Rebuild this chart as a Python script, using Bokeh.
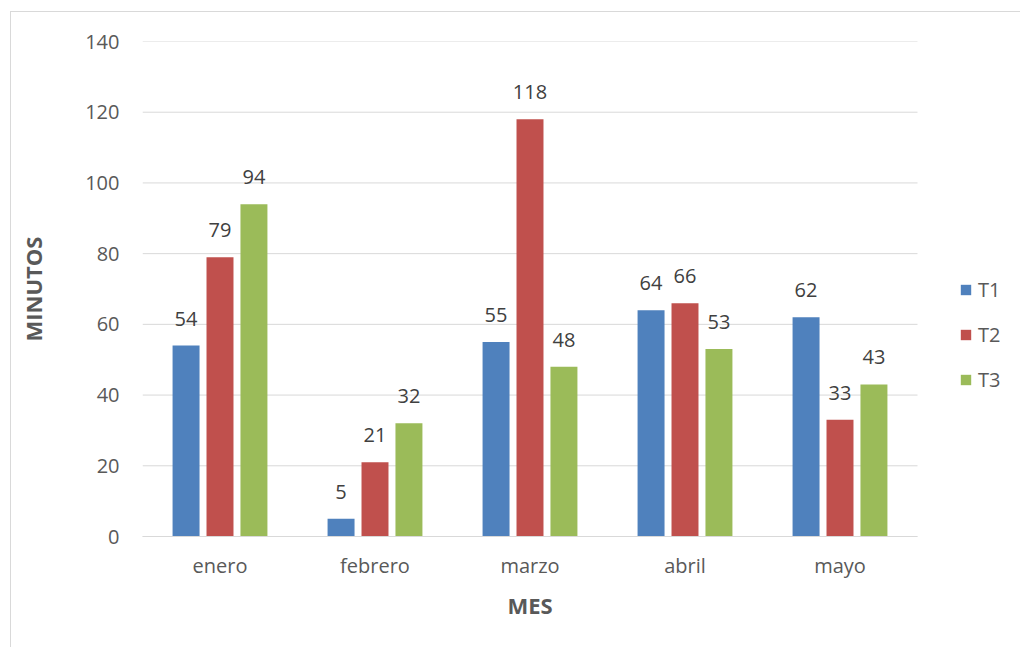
from bokeh.plotting import figure
from bokeh.models import (ColumnDataSource, Range1d, LabelSet, Legend, LegendItem, FixedTicker, Title)
from bokeh.transform import dodge
from bokeh.core.properties import value
from bokeh.embed import file_html
from bokeh.resources import INLINE

meses = ["enero", "febrero", "marzo", "abril", "mayo"]
t1 = [54, 5, 55, 64, 62]
t2 = [79, 21, 118, 66, 33]
t3 = [94, 32, 48, 53, 43]
series = ["T1", "T2", "T3"]
colors = ["#4F81BD", "#C0504D", "#9BBB59"]
y_ticks = [0, 20, 40, 60, 80, 100, 120, 140]

n = len(meses)
xc = [i + 0.5 for i in range(n)]
src = ColumnDataSource(dict(xc=xc, mes=meses, T1=t1, T2=t2, T3=t3,
                            L1=[str(v) for v in t1], L2=[str(v) for v in t2], L3=[str(v) for v in t3]))

FONT = "Open Sans"
W, H = 1010, 636
FRAME_LEFT, CAT_PX = 131, 155          # canvas px of the frame's left edge, px per category
x_max = (W - 4 - FRAME_LEFT) / CAT_PX  # frame extends right to hold the legend
p = figure(width=W, height=H, x_range=Range1d(0, x_max),
           y_range=Range1d(0, 140), output_backend="svg", toolbar_location=None,
           min_border_left=FRAME_LEFT, min_border_right=4, min_border_top=29, min_border_bottom=112)
p.styles = {"margin-left": "10px", "margin-top": "11px",
            "border-left": "1.5px solid #D9D9D9", "border-top": "1.5px solid #D9D9D9"}
p.outline_line_color = None
p.background_fill_color = "white"
p.border_fill_color = "white"
p.xgrid.grid_line_color = None
p.ygrid.grid_line_color = None

# horizontal gridlines across the category area only
p.segment(x0=[0] * len(y_ticks), x1=[n] * len(y_ticks), y0=y_ticks, y1=y_ticks,
          line_color="#D9D9D9", line_width=1)

offs = [-0.219, 0.0, 0.219]
bw = 0.174
renderers = []
for i, (s, c) in enumerate(zip(series, colors)):
    r = p.vbar(x=dodge("xc", offs[i]), top=s, width=bw, source=src,
               fill_color=c, line_color=None)
    renderers.append(r)
    lab = LabelSet(x=dodge("xc", offs[i]), y=s, text="L" + str(i + 1), source=src,
                   text_align="center", text_baseline="bottom", y_offset=20,
                   text_font=value(FONT), text_font_size="20px", text_color="#404040")
    p.add_layout(lab)

p.yaxis.ticker = FixedTicker(ticks=y_ticks)
p.xaxis.ticker = FixedTicker(ticks=xc)
p.xaxis.major_label_overrides = {x: m for x, m in zip(xc, meses)}
p.xaxis.bounds = (0, n)
for ax in (p.xaxis[0], p.yaxis[0]):
    ax.major_tick_line_color = None
    ax.minor_tick_line_color = None
    ax.major_label_text_font = FONT
    ax.major_label_text_font_size = "20px"
    ax.major_label_text_color = "#595959"
    ax.axis_label_text_font = FONT
    ax.axis_label_text_font_size = "22px"
    ax.axis_label_text_font_style = "bold"
    ax.axis_label_text_color = "#595959"
p.yaxis.axis_line_color = None
p.xaxis.axis_line_color = "#D9D9D9"
p.yaxis.axis_label = "MINUTOS"
p.yaxis.major_label_standoff = 17
p.xaxis.major_label_standoff = 9
p.yaxis.axis_label_standoff = 34

# x-axis title centred under the category area (not under the legend)
p.add_layout(Title(text="MES", align="left", offset=365, vertical_align="top", standoff=16,
                   text_font=FONT, text_font_size="22px", text_font_style="bold",
                   text_color="#595959"), "below")

legend = Legend(items=[LegendItem(label=s, renderers=[r]) for s, r in zip(series, renderers)],
                location=(817, 143), border_line_color=None, background_fill_alpha=0,
                label_text_font=FONT, label_text_font_size="20px", label_text_color="#595959",
                glyph_width=13, glyph_height=13, label_standoff=6, spacing=18, label_height=20,
                padding=0, margin=0)
p.add_layout(legend)

open("out.html", "w").write(file_html(p, INLINE))
